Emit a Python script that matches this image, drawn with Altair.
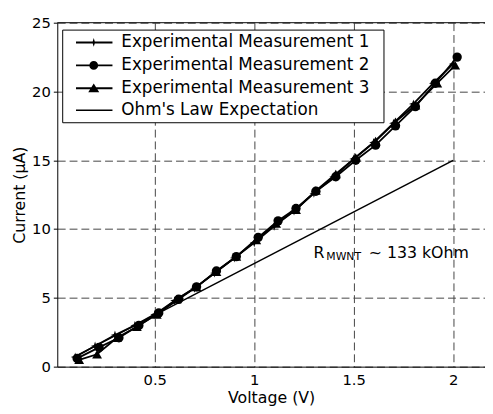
import altair as alt
import pandas as pd

series_names = ["Experimental Measurement 1", "Experimental Measurement 2",
                "Experimental Measurement 3", "Ohm's Law Expectation"]

# Measurement 1 (star / plus markers)
v1 = [0.10, 0.20, 0.30, 0.40, 0.50, 0.60, 0.70, 0.80, 0.90, 1.00,
      1.10, 1.20, 1.30, 1.40, 1.50, 1.60, 1.70, 1.80, 1.90, 2.00]
i1 = [0.7, 1.5, 2.3, 3.0, 3.8, 4.8, 5.7, 6.8, 7.9, 9.0,
      10.2, 11.3, 12.6, 13.8, 15.1, 16.3, 17.7, 19.1, 20.6, 22.0]
# Measurement 2 (circles)
v2 = [0.11, 0.22, 0.32, 0.42, 0.52, 0.62, 0.71, 0.81, 0.91, 1.02,
      1.12, 1.21, 1.31, 1.41, 1.51, 1.61, 1.71, 1.81, 1.91, 2.02]
i2 = [0.6, 1.4, 2.1, 3.0, 3.9, 4.9, 5.8, 6.95, 8.0, 9.4,
      10.6, 11.5, 12.75, 13.8, 15.0, 16.1, 17.5, 18.9, 20.6, 22.5]
# Measurement 3 (triangles)
v3 = [0.12, 0.21, 0.31, 0.41, 0.51, 0.61, 0.71, 0.81, 0.91, 1.01,
      1.11, 1.21, 1.31, 1.41, 1.51, 1.61, 1.71, 1.81, 1.92, 2.01]
i3 = [0.5, 0.9, 2.1, 2.9, 3.8, 4.9, 5.8, 6.9, 8.0, 9.2,
      10.4, 11.4, 12.8, 14.0, 15.2, 16.4, 17.8, 19.0, 20.6, 21.9]
# Ohm's law expectation (R ~ 133 kOhm)
ohm_v = [0.10, 2.00]
ohm_i = [0.75, 15.0]

x_ticks = [0.5, 1, 1.5, 2]
y_ticks = [0, 5, 10, 15, 20, 25]

annot_v = [1.298]
annot_i = [7.88]

FONT = "DejaVu Sans"

meas = pd.concat([
    pd.DataFrame({"V": v1, "I": i1, "series": series_names[0]}),
    pd.DataFrame({"V": v2, "I": i2, "series": series_names[1]}),
    pd.DataFrame({"V": v3, "I": i3, "series": series_names[2]}),
])
ohm = pd.DataFrame({"V": ohm_v, "I": ohm_i})
annot = pd.DataFrame({"V": annot_v, "I": annot_i})
legend_df = pd.DataFrame({"series": series_names})

xs = alt.Scale(domain=[0.01, 2.16], nice=False, zero=False)
ys = alt.Scale(domain=[0, 25], nice=False, zero=False)

X = alt.X("V:Q", scale=xs, axis=alt.Axis(
    values=x_ticks, format="~g", title="Voltage (V)", ticks=False,
    labelPadding=6, titleY=36, titleBaseline="alphabetic",
    grid=True, gridDash=[8, 4], gridColor="#444", gridWidth=1))
Y = alt.Y("I:Q", scale=ys, axis=alt.Axis(
    values=y_ticks, title="Current (\u03bcA)", tickSize=4, tickColor="black",
    labelPadding=3, titleAngle=270, titleBaseline="middle", titleAlign="center",
    titleX=-38, titleY=174.5,
    grid=True, gridDash=[8, 4], gridColor="#444", gridWidth=1))

star = "M0,-1L0.25,-0.25L1,0L0.25,0.25L0,1L-0.25,0.25L-1,0L-0.25,-0.25Z"

# legend symbols: filled line bar + marker (unit = 8 px), all clockwise
c = 2.375
def bar(h):
    return f"M0.125,{-h}H4.75V{h}H0.125Z"
leg_star = bar(0.125) + f"M{c},-0.55L{c+0.13},-0.13L{c+0.55},0L{c+0.13},0.13L{c},0.55L{c-0.13},0.13L{c-0.55},0L{c-0.13},-0.13Z"
r = 0.56
leg_circle = bar(0.125) + f"M{c},{-r}A{r},{r},0,1,1,{c},{r}A{r},{r},0,1,1,{c},{-r}Z"
leg_tri = bar(0.125) + f"M{c},-0.62L{c+0.7},0.5L{c-0.7},0.5Z"
leg_line = bar(0.09)
legend_paths = [leg_star, leg_circle, leg_tri, leg_line]

lines = alt.Chart(meas).mark_line(color="black", strokeWidth=1.8).encode(
    x=X, y=Y, detail="series:N")

pts1 = alt.Chart(meas[meas.series == series_names[0]]).mark_point(
    shape=star, filled=True, color="black", size=80, opacity=1).encode(x=X, y=Y)
pts2 = alt.Chart(meas[meas.series == series_names[1]]).mark_point(
    shape="circle", filled=True, color="black", size=90, opacity=1).encode(x=X, y=Y)
pts3 = alt.Chart(meas[meas.series == series_names[2]]).mark_point(
    shape="triangle-up", filled=True, color="black", size=100, opacity=1).encode(x=X, y=Y)

ohm_line = alt.Chart(ohm).mark_line(color="black", strokeWidth=1.5).encode(x=X, y=Y)

top_border = alt.Chart(annot).mark_rule(color="black", strokeWidth=1).encode(
    x=alt.value(0), x2=alt.value(434), y=alt.value(0))

t_r = alt.Chart(annot).mark_text(text="R", align="left", baseline="alphabetic",
                                 font=FONT, fontSize=16, color="black").encode(x=X, y=Y)
t_sub = alt.Chart(annot).mark_text(text="MWNT", align="left", baseline="alphabetic",
                                   font=FONT, fontSize=11, color="black", dx=13, dy=2).encode(x=X, y=Y)
t_rest = alt.Chart(annot).mark_text(text="~ 133 kOhm", align="left", baseline="alphabetic",
                                    font=FONT, fontSize=16, color="black", dx=56).encode(x=X, y=Y)

legend_layer = alt.Chart(legend_df).mark_point(
    filled=True, fill="black", opacity=1).encode(
    x=alt.value(-1000), y=alt.value(-1000),
    shape=alt.Shape("series:N", scale=alt.Scale(domain=series_names, range=legend_paths),
                    legend=alt.Legend(
                        title="\u00a0", titleOrient="right", titlePadding=10, titleFontSize=10,
                        orient="none", legendX=5, legendY=7,
                        padding=4, strokeColor="black", fillColor="white",
                        symbolSize=256, symbolStrokeWidth=2,
                        symbolFillColor="black",
                        symbolOpacity=1,
                        labelFont=FONT, labelFontSize=17, labelColor="black",
                        labelOffset=38, rowPadding=5.3, labelLimit=400)))

chart = alt.layer(
    lines, ohm_line, pts1, pts2, pts3, t_r, t_sub, t_rest, top_border, legend_layer
).properties(
    width=434, height=349,
    autosize=alt.AutoSizeParams(type="none"),
    padding={"left": 50, "top": 12, "right": 0, "bottom": 37},
    background="white",
).configure_view(stroke=None).configure_axis(
    labelFont=FONT, labelFontSize=15, labelColor="black",
    titleFont=FONT, titleFontSize=16, titleFontWeight="normal", titleColor="black",
    domainColor="black", domainWidth=1,
)

chart.save("out.html", embed_options={"renderer": "svg", "actions": False})
